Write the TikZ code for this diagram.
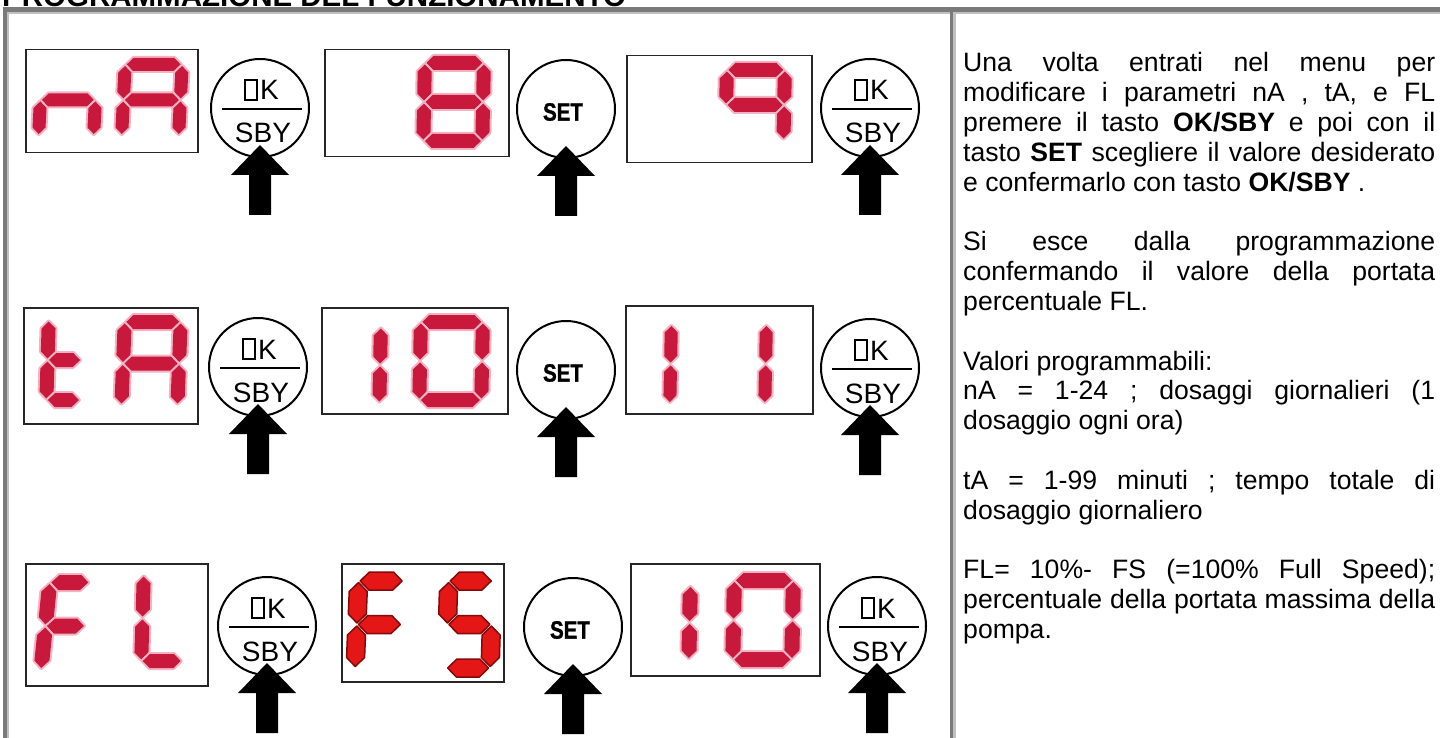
\documentclass[tikz,border=0pt]{standalone}
\usepackage{fontspec}
\setmainfont{Liberation Sans}
\newfontfamily\heavyfont{Liberation Sans Bold}[FakeBold=1.2]
\usetikzlibrary{calc}
\definecolor{segred}{RGB}{200,25,60}
\definecolor{segglow}{RGB}{242,180,195}
\definecolor{fsred}{RGB}{228,22,22}
\definecolor{fsdark}{RGB}{130,10,10}
\definecolor{framedark}{RGB}{122,122,122}
\definecolor{framelight}{RGB}{192,192,192}
\tikzset{
  dispbox/.style={draw=black!85, line width=1.5pt, inner sep=0pt, anchor=north west},
  btn/.style={circle, draw=black, line width=2pt, minimum size=98pt, inner sep=0pt},
  seg/.style={fill=segred, preaction={draw=segglow, line width=4pt, line join=round}},
  segfs/.style={fill=fsred, draw=fsdark, line width=1.5pt, line join=round},
  para/.style={anchor=base west, inner sep=0pt, font=\fontsize{26.6}{30}\selectfont\frenchspacing},
  btnlbl/.style={inner sep=0pt, font=\fontsize{28}{30}\selectfont},
}
% seven segment helpers
\newcommand\segH[3]{(#2,#1) -- ({#2+\hT},{#1-\hT}) -- ({#3-\hT},{#1-\hT}) -- (#3,#1) -- ({#3-\hT},{#1+\hT}) -- ({#2+\hT},{#1+\hT}) -- cycle}
\newcommand\segV[3]{(#1,#2) -- ({#1+\hT},{#2+\hT}) -- ({#1+\hT},{#3-\hT}) -- (#1,#3) -- ({#1-\hT},{#3-\hT}) -- ({#1-\hT},{#2+\hT}) -- cycle}
\def\dsega{\segH{\hT}{\xa}{\xb}}
\def\dsegg{\segH{\ym}{\xa}{\xb}}
\def\dsegd{\segH{\ybot}{\xa}{\xb}}
\def\dsegf{\segV{\hT}{\ya}{\yb}}
\def\dsegb{\segV{\xr}{\ya}{\yb}}
\def\dsege{\segV{\hT}{\yc}{\yd}}
\def\dsegc{\segV{\xr}{\yc}{\yd}}
\newcommand\sseg[8]{%
  \pgfmathsetmacro\dW{#3}\pgfmathsetmacro\dH{#4}\pgfmathsetmacro\hT{#5/2}%
  \pgfmathsetmacro\xa{\hT+1.5}\pgfmathsetmacro\xb{\dW-\hT-1.5}%
  \pgfmathsetmacro\ya{\hT+1.5}\pgfmathsetmacro\yb{\dH/2-1.5}%
  \pgfmathsetmacro\yc{\dH/2+1.5}\pgfmathsetmacro\yd{\dH-\hT-1.5}%
  \pgfmathsetmacro\xr{\dW-\hT}\pgfmathsetmacro\ym{\dH/2}\pgfmathsetmacro\ybot{\dH-\hT}%
  \begin{scope}[shift={(#1,#2)}, xslant=#6]
    \foreach \s in {#7}{\expandafter\let\expandafter\curseg\csname dseg\s\endcsname
      \path[#8] \curseg;}
  \end{scope}}
% button labels
\newcommand\oklabel[1]{%
  \draw[line width=1.7pt] ($(#1.center)+(-15,-28)$) rectangle ($(#1.center)+(-3,-8)$);
  \node[btnlbl, anchor=base west] (#1k) at ($(#1.center)+(0,-8)$) {K};
  \draw[line width=1.5pt] ($(#1.center)+(-38,1)$) -- ($(#1.center)+(42,1)$);
  \node[btnlbl, anchor=base] (#1s) at ($(#1.center)+(3,35)$) {SBY};}
\newcommand\setlabel[1]{%
  \node[inner sep=0pt, font=\fontsize{25}{25}\selectfont\heavyfont] (#1t) at ($(#1.center)+(-3,3)$) {\scalebox{0.82}[1]{SET}};}
\newcommand\pressarrow[1]{%
  \fill ($(#1.south)+(0,-13)$) -- ++(29,30) -- ++(-18,0) -- ++(0,40) -- ++(-22,0) -- ++(0,-40) -- ++(-18,0) -- cycle;}
\begin{document}
\begin{tikzpicture}[x=1pt, y=-1pt]
\useasboundingbox (0,0) rectangle (1440,738);
\fill[white] (0,0) rectangle (1440,738);
% title (cut off at the top, as in the original)
\begin{scope}
  \clip (0,0) rectangle (1440,738);
  \node[anchor=base west, inner sep=0pt, font=\fontsize{29.5}{30}\selectfont\bfseries] (title) at (2,7) {PROGRAMMAZIONE DEL FUNZIONAMENTO};
\end{scope}
% frame
\fill[framedark] (3,7) rectangle (1440,12);
\fill[framelight] (7,12) rectangle (1440,14);
\fill[framedark] (3,7) rectangle (7,738);
\fill[framelight] (7,12) rectangle (9,738);
\fill[framedark] (950,12) rectangle (953,738);
\fill[framelight] (953,12) rectangle (956,738);

% display boxes
\node[dispbox, minimum width=172pt, minimum height=103pt] (d11) at (25,49) {};
\node[dispbox, minimum width=184pt, minimum height=107pt] (d12) at (324,49) {};
\node[dispbox, minimum width=185pt, minimum height=107pt] (d13) at (626,55) {};
\node[dispbox, minimum width=174pt, minimum height=116pt] (d21) at (23,307) {};
\node[dispbox, minimum width=186pt, minimum height=106pt] (d22) at (321,307) {};
\node[dispbox, minimum width=187pt, minimum height=108pt] (d23) at (625,305) {};
\node[dispbox, minimum width=182pt, minimum height=122pt] (d31) at (25,563) {};
\node[dispbox, minimum width=162pt, minimum height=118pt] (d32) at (341,563) {};
\node[dispbox, minimum width=189pt, minimum height=112pt] (d33) at (630,563) {};

% digits row 1
\sseg{36}{58}{68}{84}{13}{0.05}{g,e,c}{seg}
\sseg{119}{58}{70}{84}{13}{0.05}{a,b,c,e,f,g}{seg}
\sseg{418}{56}{73}{92}{14}{0.02}{a,b,c,d,e,f,g}{seg}
\sseg{720}{63}{72}{84}{14}{0.02}{a,b,c,f,g}{seg}
% digits row 2
\sseg{42}{313}{48}{94}{14}{0.03}{f,e,g,d}{seg}
\sseg{118}{315}{70}{97}{14}{0.04}{a,b,c,e,f,g}{seg}
\sseg{316}{320}{72}{90}{14}{0.02}{b,c}{seg}
\sseg{414}{315}{76}{92}{14}{0.02}{a,b,c,d,e,f}{seg}
\sseg{606}{318}{72}{92}{13}{0.02}{b,c}{seg}
\sseg{701}{318}{72}{92}{13}{0.02}{b,c}{seg}
% digits row 3
\sseg{43}{575}{55}{102}{15}{0.1}{a,f,g,e}{seg}
\sseg{137}{568}{55}{100}{14}{0.03}{f,e,d}{seg}
\sseg{350}{572}{63}{105}{18}{0.04}{a,f,g,e}{segfs}
\sseg{440}{572}{62}{105}{18}{0.03}{a,f,g,c,d}{segfs}
\sseg{625}{578}{73}{89}{15}{0.02}{b,c}{seg}
\sseg{727}{573}{74}{94}{15}{0.02}{a,b,c,d,e,f}{seg}

% buttons
\node[btn] (ok11) at (260,108) {};
\node[btn] (set12) at (566,109) {};
\node[btn] (ok13) at (870,108) {};
\node[btn] (ok21) at (258,367) {};
\node[btn] (set22) at (566,370) {};
\node[btn] (ok23) at (870,368) {};
\node[btn] (ok31) at (267,626) {};
\node[btn] (set32) at (573,627) {};
\node[btn] (ok33) at (877,626) {};
\oklabel{ok11}\oklabel{ok13}\oklabel{ok21}\oklabel{ok23}\oklabel{ok31}\oklabel{ok33}
\setlabel{set12}\setlabel{set22}\setlabel{set32}
\pressarrow{ok11}\pressarrow{set12}\pressarrow{ok13}
\pressarrow{ok21}\pressarrow{set22}\pressarrow{ok23}
\pressarrow{ok31}\pressarrow{set32}\pressarrow{ok33}

% right column text
\node[para] (p0) at (963,72) {\makebox[472pt][s]{Una volta entrati nel menu per}};
\node[para] (p1) at (963,101.8) {\makebox[472pt][s]{modificare i parametri nA , tA, e FL}};
\node[para] (p2) at (963,131.6) {\makebox[472pt][s]{premere il tasto \textbf{OK/SBY} e poi con il}};
\node[para] (p3) at (963,161.4) {\makebox[472pt][s]{tasto \textbf{SET} scegliere il valore desiderato}};
\node[para] (p4) at (963,191.2) {e confermarlo con tasto \textbf{OK/SBY} .};
\node[para] (p6) at (963,250.8) {\makebox[472pt][s]{Si esce dalla programmazione}};
\node[para] (p7) at (963,280.6) {\makebox[472pt][s]{confermando il valore della portata}};
\node[para] (p8) at (963,310.4) {percentuale FL.};
\node[para] (p10) at (963,370) {Valori programmabili:};
\node[para] (p11) at (963,399.8) {\makebox[472pt][s]{nA = 1-24 ; dosaggi giornalieri (1}};
\node[para] (p12) at (963,429.6) {dosaggio ogni ora)};
\node[para] (p14) at (963,489.2) {\makebox[472pt][s]{tA = 1-99 minuti ; tempo totale di}};
\node[para] (p15) at (963,519) {dosaggio giornaliero};
\node[para] (p17) at (963,578.6) {\makebox[472pt][s]{FL= 10\%- FS (=100\% Full Speed);}};
\node[para] (p18) at (963,608.4) {\makebox[472pt][s]{percentuale della portata massima della}};
\node[para] (p19) at (963,638.2) {pompa.};
\end{tikzpicture}
\end{document}
